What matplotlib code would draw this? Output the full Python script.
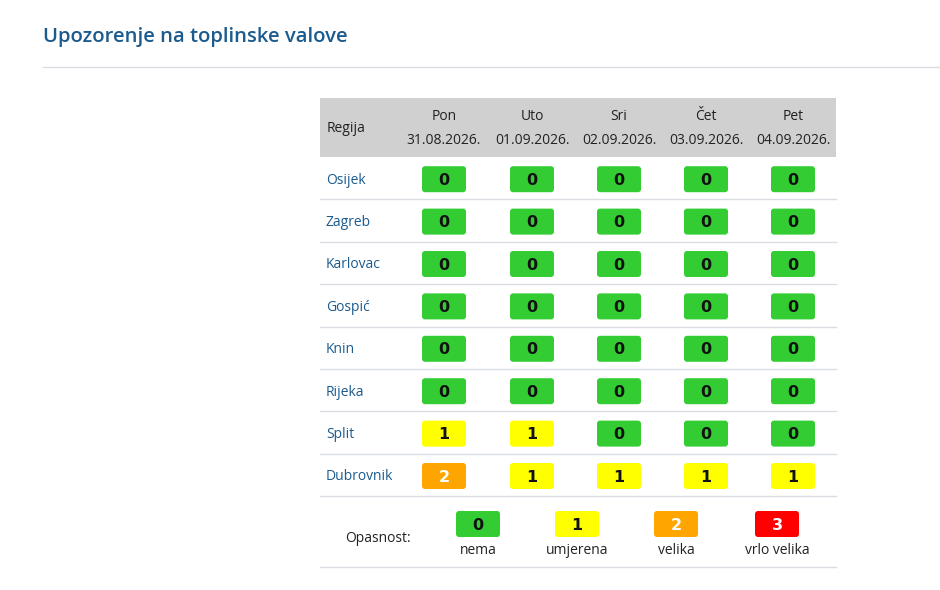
import matplotlib
matplotlib.use("Agg")
import matplotlib.pyplot as plt
from matplotlib.patches import FancyBboxPatch, Rectangle

plt.rcParams['font.family'] = ['Open Sans', 'DejaVu Sans']

title = "Upozorenje na toplinske valove"
days = ["Pon", "Uto", "Sri", "Čet", "Pet"]
dates = ["31.08.2026.", "01.09.2026.", "02.09.2026.", "03.09.2026.", "04.09.2026."]
regions = ["Osijek", "Zagreb", "Karlovac", "Gospić", "Knin", "Rijeka", "Split", "Dubrovnik"]
osijek = [0, 0, 0, 0, 0]
zagreb = [0, 0, 0, 0, 0]
karlovac = [0, 0, 0, 0, 0]
gospic = [0, 0, 0, 0, 0]
knin = [0, 0, 0, 0, 0]
rijeka = [0, 0, 0, 0, 0]
split = [1, 1, 0, 0, 0]
dubrovnik = [2, 1, 1, 1, 1]
levels = [0, 1, 2, 3]
level_labels = ["nema", "umjerena", "velika", "vrlo velika"]
level_colors = ["#33cc33", "#ffff00", "#ffa500", "#ff0000"]
level_text = ["#111111", "#111111", "#ffffff", "#ffffff"]

values = [osijek, zagreb, karlovac, gospic, knin, rijeka, split, dubrovnik]

W, H = 940, 590
fig = plt.figure(figsize=(W / 100, H / 100), dpi=100)
ax = fig.add_axes([0, 0, 1, 1])
ax.set_xlim(0, W)
ax.set_ylim(H, 0)
ax.axis("off")

blue = "#1b5b8e"
sep = "#d9dde2"
fs = 10

# Title and rule
ax.text(43, 37, title, fontsize=14.6, fontweight="semibold", color=blue, va="center", ha="left")
ax.plot([43, 940], [67, 67], color=sep, lw=1)

# Table geometry
tx0, tx1 = 320, 836
hy0, hy1 = 98, 157
col_x = [444, 532, 619, 706, 793]
row_h = 42.4
bw, bh = 44, 26

ax.add_patch(Rectangle((tx0, hy0), tx1 - tx0, hy1 - hy0, facecolor="#d0d0d0", edgecolor="none"))
ax.text(327, 129, "Regija", fontsize=fs, color="#222222", va="center", ha="left")
for cx, d, dt in zip(col_x, days, dates):
    ax.text(cx, 117, d, fontsize=fs, color="#222222", va="center", ha="center")
    ax.text(cx, 140, dt, fontsize=fs, color="#222222", va="center", ha="center")


def badge(cx, cy, v):
    ax.add_patch(FancyBboxPatch((cx - bw / 2 + 3, cy - bh / 2 + 3), bw - 6, bh - 6,
                                boxstyle="round,pad=3", facecolor=level_colors[v],
                                edgecolor="none"))
    ax.text(cx, cy + 1, str(v), fontsize=11.5, fontweight="bold", color=level_text[v],
            va="center", ha="center", family="DejaVu Sans")


for i, (reg, vals) in enumerate(zip(regions, values)):
    top = hy1 + i * row_h
    cy = top + row_h / 2 + 1
    ax.text(326, cy + 1, reg, fontsize=fs, color=blue, va="center", ha="left")
    for cx, v in zip(col_x, vals):
        badge(cx, cy, v)
    ax.plot([tx0, tx1], [top + row_h, top + row_h], color=sep, lw=1)

# Legend
ax.text(378, 538, "Opasnost:", fontsize=fs, color="#222222", va="center", ha="center")
leg_x = [478, 577, 676, 777]
for lx, lv, lab in zip(leg_x, levels, level_labels):
    badge(lx, 524, lv)
    ax.text(lx, 551, lab, fontsize=fs, color="#222222", va="center", ha="center")
ax.plot([tx0, tx1], [567, 567], color=sep, lw=1)

fig.savefig("out.png", dpi=100, facecolor="white")
